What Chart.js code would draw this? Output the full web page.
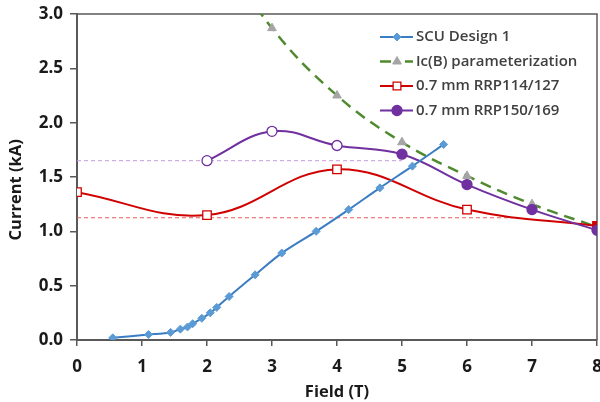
<!DOCTYPE html>
<html>
<head>
<meta charset="utf-8">
<script src="https://cdn.jsdelivr.net/npm/chart.js@4/dist/chart.umd.min.js"></script>
<style>
html,body{margin:0;padding:0;background:#fff;}
#wrap{width:600px;height:402px;position:relative;}
</style>
</head>
<body>
<div id="wrap"><canvas id="c" width="600" height="402"></canvas></div>
<script>
// ---- data ----
const scuField   = [0.55, 1.10, 1.44, 1.59, 1.70, 1.78, 1.92, 2.05, 2.15, 2.34, 2.74, 3.15, 3.68, 4.18, 4.66, 5.16, 5.64];
const scuCurrent = [0.02, 0.05, 0.07, 0.10, 0.12, 0.15, 0.20, 0.25, 0.30, 0.40, 0.60, 0.80, 1.00, 1.20, 1.40, 1.60, 1.80];

const icField   = [2, 3, 4, 5, 6, 7, 8];
const icCurrent = [3.75, 2.87, 2.25, 1.82, 1.51, 1.25, 1.04];

const rrp114Field   = [0, 2, 4, 6, 8];
const rrp114Current = [1.36, 1.15, 1.57, 1.20, 1.05];

const rrp150Field   = [2, 3, 4, 5, 6, 7, 8];
const rrp150Current = [1.65, 1.92, 1.79, 1.71, 1.43, 1.20, 1.01];

const ref114Field   = [0, 6.7];
const ref114Current = [1.125, 1.125];
const ref150Field   = [0, 5.0];
const ref150Current = [1.65, 1.65];

const xTicks = [0, 1, 2, 3, 4, 5, 6, 7, 8];
const yTicks = [0.0, 0.5, 1.0, 1.5, 2.0, 2.5, 3.0];

const legendLabels = ['SCU Design 1', 'Ic(B) parameterization', '0.7 mm RRP114/127', '0.7 mm RRP150/169'];

// ---- helpers ----
const pts = (xs, ys) => xs.map((x, i) => ({x: x, y: ys[i]}));

const BLUE_LINE = '#3b7dc3';
const BLUE_MK = '#5b9bd5';
const GREEN = '#4f8a2f';
const GRAY = '#a5a5a5';
const RED = '#d00000';
const PURPLE = '#7030a0';
const AXIS = '#595959';

const datasets = [
  {
    label: legendLabels[0], data: pts(scuField, scuCurrent),
    borderColor: BLUE_LINE, borderWidth: 2, tension: 0.3,
    pointStyle: 'rectRot', pointRadius: 4, pointBackgroundColor: BLUE_MK, pointBorderColor: BLUE_MK, pointBorderWidth: 1,
    order: 1
  },
  {
    label: legendLabels[1], data: pts(icField, icCurrent),
    borderColor: GREEN, borderWidth: 2.5, borderDash: [11, 7], tension: 0.4,
    pointStyle: 'triangle', pointRadius: (c) => c.dataIndex === icField.length - 1 ? 0 : 5,
    pointBackgroundColor: GRAY, pointBorderColor: GRAY, pointBorderWidth: 1,
    order: 4
  },
  {
    label: legendLabels[2], data: pts(rrp114Field, rrp114Current),
    borderColor: RED, borderWidth: 2, tension: 0.4,
    pointStyle: 'rect', pointRadius: 6,
    pointBackgroundColor: (c) => c.dataIndex === rrp114Field.length - 1 ? RED : '#ffffff',
    pointBorderColor: RED, pointBorderWidth: 1.3,
    order: 3
  },
  {
    label: legendLabels[3], data: pts(rrp150Field, rrp150Current),
    borderColor: PURPLE, borderWidth: 2, tension: 0.4,
    pointStyle: 'circle', pointRadius: 5,
    pointBackgroundColor: (c) => (c.raw && c.raw.x >= 5) ? PURPLE : '#ffffff',
    pointBorderColor: PURPLE, pointBorderWidth: 1.3,
    order: 2
  },
  {
    label: 'ref114', data: pts(ref114Field, ref114Current),
    borderColor: '#e85a5a', borderWidth: 1, borderDash: [4, 3], pointRadius: 0, tension: 0,
    order: 6
  },
  {
    label: 'ref150', data: pts(ref150Field, ref150Current),
    borderColor: '#c49ae0', borderWidth: 1, borderDash: [4, 3], pointRadius: 0, tension: 0,
    order: 6
  }
];

const FONT = "'Open Sans', 'DejaVu Sans', sans-serif";

// keep the plot area's right edge where the reference has it (the last x label may run off the canvas)
const areaFix = {
  id: 'areaFix',
  afterLayout(chart) {
    const a = chart.chartArea;
    const target = 597;
    if (a.right !== target) {
      a.right = target;
      a.width = a.right - a.left;
      const xs = chart.scales.x;
      xs.right = target;
      xs.width = xs.right - xs.left;
      xs.configure();
    }
  }
};

const frame = {
  id: 'frame',
  beforeDatasetsDraw(chart) {
    const {ctx, chartArea: a} = chart;
    ctx.save();
    ctx.strokeStyle = AXIS;
    ctx.lineWidth = 1.5;
    ctx.beginPath();
    ctx.moveTo(a.left, a.top); ctx.lineTo(a.right, a.top); ctx.lineTo(a.right, a.bottom);
    ctx.stroke();
    ctx.restore();
  }
};

const legendPlugin = {
  id: 'customLegend',
  afterDraw(chart) {
    const ctx = chart.ctx;
    const rows = [37, 61.5, 86, 110.5];
    const x0 = 380, x1 = 413, xm = 397, tx = 416;
    ctx.save();
    ctx.font = "600 15px " + FONT;
    ctx.textBaseline = 'middle';
    ctx.fillStyle = '#404040';
    for (let i = 0; i < 4; i++) {
      const ds = chart.data.datasets[i];
      const y = rows[i];
      ctx.save();
      ctx.strokeStyle = ds.borderColor;
      ctx.lineWidth = ds.borderWidth;
      ctx.beginPath();
      if (ds.borderDash) { ctx.moveTo(x0, y); ctx.lineTo(xm - 6, y); ctx.moveTo(xm + 8, y); ctx.lineTo(x1, y); }
      else { ctx.moveTo(x0, y); ctx.lineTo(x1, y); }
      ctx.stroke();
      ctx.restore();
      let bg = ds.pointBackgroundColor;
      if (i === 2) bg = '#ffffff';
      if (i === 3) bg = PURPLE;
      ctx.save();
      ctx.fillStyle = bg;
      ctx.strokeStyle = ds.pointBorderColor;
      ctx.lineWidth = ds.pointBorderWidth;
      const r = (i === 1) ? 5 : (i === 2 ? 5.5 : (typeof ds.pointRadius === 'number' ? ds.pointRadius : 5));
      Chart.helpers.drawPoint(ctx, {pointStyle: ds.pointStyle, radius: r, rotation: 0, borderWidth: ds.pointBorderWidth}, xm, y);
      ctx.restore();
      ctx.fillText(ds.label, tx, y);
    }
    ctx.restore();
  }
};

new Chart(document.getElementById('c'), {
  type: 'line',
  data: { datasets: datasets },
  plugins: [areaFix, frame, legendPlugin],
  options: {
    responsive: false,
    animation: false,
    layout: { padding: { top: 14, right: 3, left: 0, bottom: 0 } },
    plugins: { legend: { display: false }, tooltip: { enabled: false } },
    scales: {
      x: {
        type: 'linear', min: 0, max: 8,
        afterBuildTicks: (s) => { s.ticks = xTicks.map(v => ({value: v})); },
        afterFit: (s) => { s.height = 62; },
        grid: { drawOnChartArea: false, drawTicks: true, tickLength: 6, color: AXIS, lineWidth: 1.5 },
        border: { color: AXIS, width: 2 },
        ticks: { color: '#1a1a1a', font: { family: FONT, size: 17, weight: 'bold' }, padding: 11, maxRotation: 0 },
        title: { display: true, text: 'Field (T)', color: '#1a1a1a', font: { family: FONT, size: 16.5, weight: 'bold' }, padding: { top: 0, bottom: 0 } }
      },
      y: {
        type: 'linear', min: 0, max: 3,
        afterBuildTicks: (s) => { s.ticks = yTicks.map(v => ({value: v})); },
        afterFit: (s) => { s.width = 77; s.paddingTop = 0; s.paddingBottom = 0; },
        grid: { drawOnChartArea: false, drawTicks: true, tickLength: 7, color: AXIS, lineWidth: 1.5 },
        border: { color: AXIS, width: 2 },
        ticks: { color: '#1a1a1a', font: { family: FONT, size: 17, weight: 'bold' }, padding: 7, callback: (v) => Number(v).toFixed(1) },
        title: { display: true, text: 'Current (kA)      ', color: '#1a1a1a', font: { family: FONT, size: 16.5, weight: 'bold' }, padding: { top: 6, bottom: 0 } }
      }
    }
  }
});
</script>
</body>
</html>
